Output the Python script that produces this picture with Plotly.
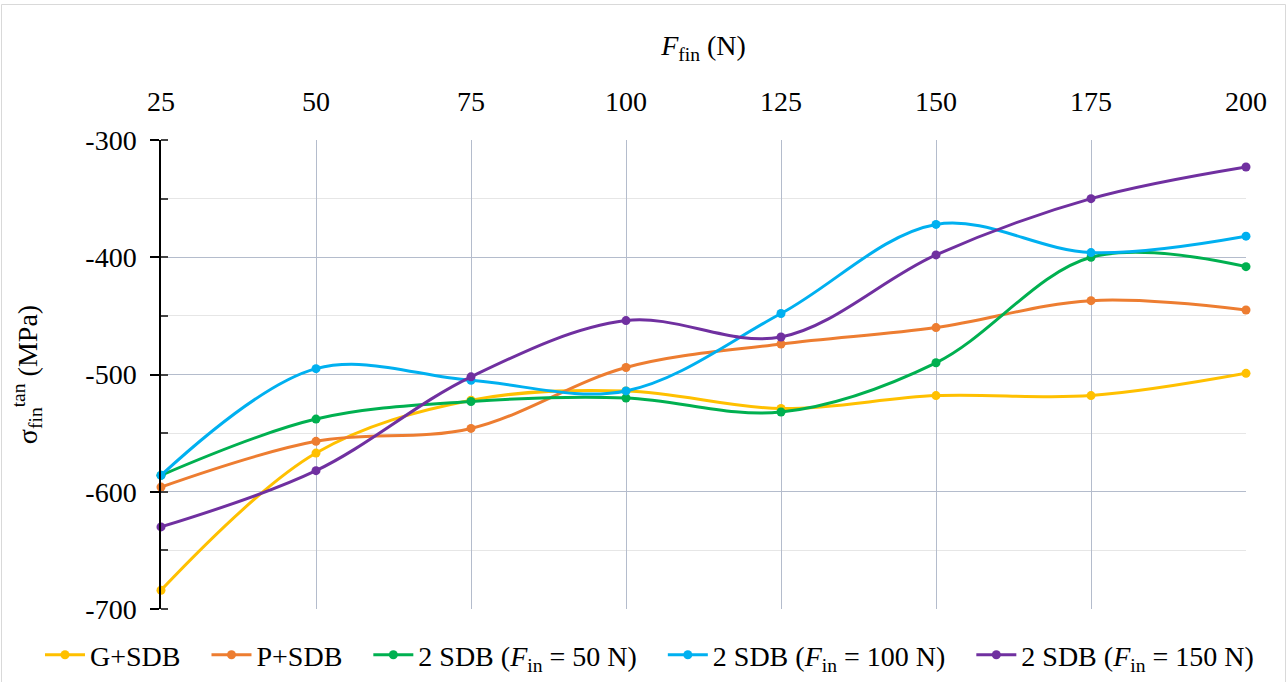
import plotly.graph_objects as go

x_vals = [25, 50, 75, 100, 125, 150, 175, 200]
g_sdb = [-684, -567, -522, -514, -529, -518, -518, -499]
p_sdb = [-596, -557, -546, -494, -474, -460, -437, -445]
sdb_50 = [-586, -538, -523, -520, -532, -490, -400, -408]
sdb_100 = [-586, -495, -505, -514, -448, -372, -396, -382]
sdb_150 = [-630, -582, -502, -454, -468, -398, -350, -323]
y_ticks = [-700, -600, -500, -400, -300]

names = ["G+SDB", "P+SDB",
         "2 SDB (<i>F</i><sub>in</sub> = 50 N)",
         "2 SDB (<i>F</i><sub>in</sub> = 100 N)",
         "2 SDB (<i>F</i><sub>in</sub> = 150 N)"]
series = [g_sdb, p_sdb, sdb_50, sdb_100, sdb_150]
colors = ["#FFC000", "#ED7D31", "#00B050", "#00B0F0", "#7030A0"]

FONT = "Liberation Serif"
W, H = 1287, 682
L, R, T, B = 161, 41, 140, 73
PW, PH = W - L - R, H - T - B
PAD = "\u00a0\u00a0\u00a0"

fig = go.Figure()
for i, (n, s, c) in enumerate(zip(names, series, colors)):
    label = n + (PAD if i < len(names) - 1 else "")
    fig.add_trace(go.Scatter(
        x=x_vals, y=s, name=label, mode="lines+markers",
        line=dict(color=c, width=3, shape="spline", smoothing=1.0),
        marker=dict(color=c, size=9),
        cliponaxis=False,
    ))

grid_c = "#B4BCCC"
fig.update_layout(
    width=W, height=H,
    paper_bgcolor="white", plot_bgcolor="white",
    margin=dict(l=L, r=R, t=T, b=B, autoexpand=False),
    font=dict(family=FONT, size=28, color="black"),
    legend=dict(orientation="h", x=(40 - L) / PW, xanchor="left",
                y=-(655 - (H - B)) / PH, yanchor="middle",
                font=dict(size=28), bgcolor="rgba(0,0,0,0)", itemwidth=40,
                tracegroupgap=0),
    showlegend=True,
    shapes=[dict(type="rect", xref="paper", yref="paper",
                 x0=(1.5 - L) / PW, x1=(1285.5 - L) / PW,
                 y0=-(B + 10) / PH, y1=1 + (T - 4.5) / PH,
                 line=dict(color="#D9D9D9", width=1))],
)
fig.update_xaxes(
    range=[25, 200], side="top", tickvals=x_vals, ticktext=[str(v) for v in x_vals],
    showgrid=True, gridcolor=grid_c, gridwidth=1, zeroline=False, automargin=False,
    showline=False, ticks="", ticklabelstandoff=22,
    title=dict(text="<i>F</i><sub>fin</sub> (N)", font=dict(size=28), standoff=22),
)
fig.update_yaxes(
    range=[-700, -300], tickvals=y_ticks, ticktext=[str(v) for v in y_ticks],
    showgrid=True, gridcolor=grid_c, gridwidth=1, zeroline=False, automargin=False,
    showline=True, linecolor="black", linewidth=1.5,
    ticks="outside", ticklen=9, tickcolor="black", tickwidth=1.5, ticklabelstandoff=8,
    minor=dict(dtick=50, tick0=-700, showgrid=True, gridcolor="#E6E6E6", ticks="inside",
               ticklen=7, tickcolor="#444444"),
    title=dict(text="σ<sub>fin</sub><sup>tan</sup> (MPa)", font=dict(size=28), standoff=40),
)
fig.write_html("out.html", config={"displayModeBar": False},
               post_script="document.body.style.margin='0';")
